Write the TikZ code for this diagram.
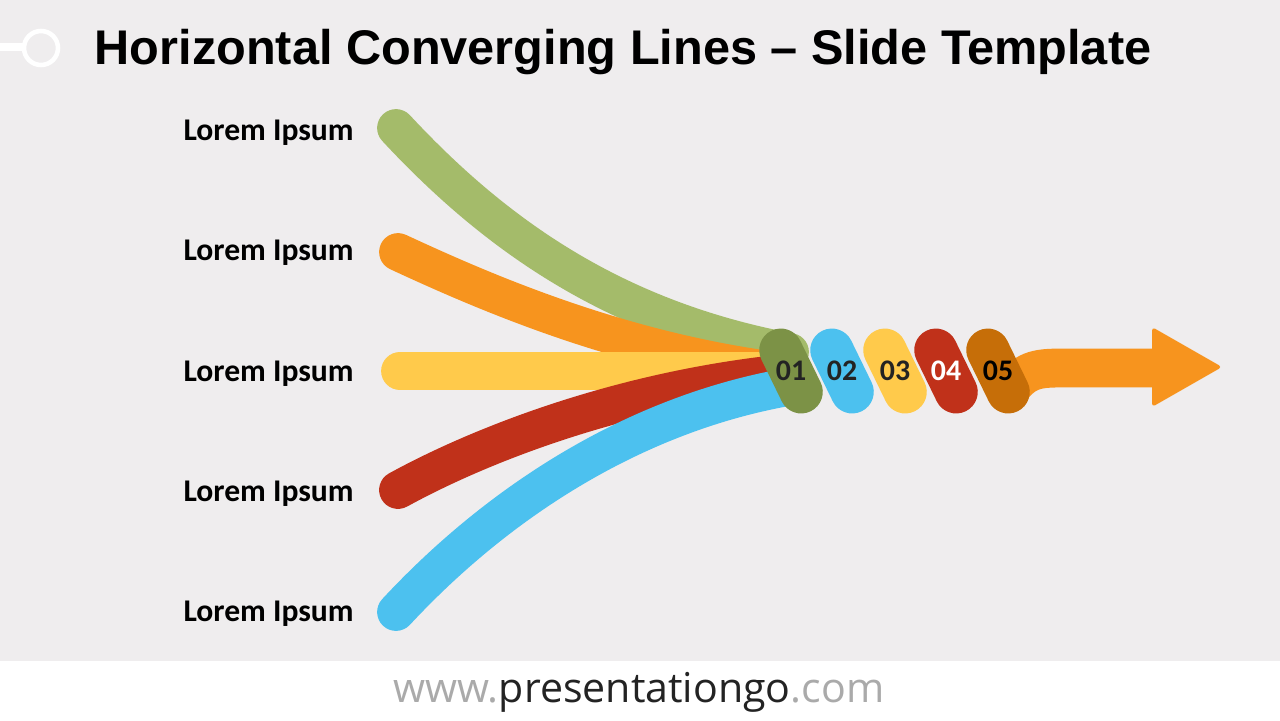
\documentclass[tikz,border=0pt]{standalone}
\usepackage{fontspec}
\setmainfont{Carlito}
\newfontfamily\titlefont{Liberation Sans}
\newfontfamily\footfont{Open Sans}
\usepackage{tikz}
\usetikzlibrary{positioning, calc}
\definecolor{pagegray}{RGB}{239, 237, 238}
\definecolor{lgreen}{RGB}{164, 187, 106}
\definecolor{dgreen}{RGB}{124, 146, 70}
\definecolor{lorange}{RGB}{247, 148, 30}
\definecolor{dorange}{RGB}{198, 110, 8}
\definecolor{lyellow}{RGB}{255, 202, 75}
\definecolor{lred}{RGB}{192, 49, 26}
\definecolor{lblue}{RGB}{76, 193, 239}
\definecolor{inktext}{RGB}{35, 35, 35}

\begin{document}
\begin{tikzpicture}[
    x=0.02cm, y=-0.02cm,
    strand/.style={line width=21.5pt, line cap=round},
    pill/.style={minimum width=24.6pt, minimum height=51pt, inner sep=0pt, rounded corners=12.3pt, rotate=26},
    numlbl/.style={font=\fontsize{17}{17}\selectfont\bfseries, text=inktext, inner sep=0pt},
    lbl/.style={font=\fontsize{18}{18}\selectfont\bfseries, anchor=base east, inner sep=0pt}
]
    \useasboundingbox (0,0) rectangle (1280,720);
    \fill[pagegray] (0,0) rectangle (1280,661);
    \fill[white] (0,661) rectangle (1280,720);

    % corner pin
    \draw[white, line width=4.5pt] (0,47) -- (23,47);
    \draw[white, line width=2.6pt] (41,48) circle (17);

    \node[font=\titlefont\fontsize{27.7}{27.7}\selectfont\bfseries, anchor=base, inner sep=0pt] (title) at (623,64) {Horizontal Converging Lines – Slide Template};

    % labels
    \node[lbl] (l1) at (354,140) {Lorem Ipsum};
    \node[lbl] (l2) at (354,260) {Lorem Ipsum};
    \node[lbl] (l3) at (354,381) {Lorem Ipsum};
    \node[lbl] (l4) at (354,501) {Lorem Ipsum};
    \node[lbl] (l5) at (354,621) {Lorem Ipsum};

    % strand ends
    \coordinate (s1) at (396,128);
    \coordinate (s2) at (398,252);
    \coordinate (s3) at (400,371);
    \coordinate (s4) at (398,490);
    \coordinate (s5) at (396,612);
    \coordinate (e1) at (790,352);
    \coordinate (e2) at (785,372);
    \coordinate (e3) at (780,371);
    \coordinate (e4) at (785,373);
    \coordinate (e5) at (800,385);

    \draw[strand, lgreen] (s1) .. controls (500,240) and (620,320) .. (e1);
    \draw[strand, lorange] (s2) .. controls (480,290) and (620,352) .. (e2);
    \draw[strand, lyellow] (s3) -- (e3);
    \draw[strand, lred] (s4) .. controls (480,445) and (620,390) .. (e4);
    \draw[strand, lblue] (s5) .. controls (500,500) and (640,410) .. (e5);

    % outgoing arrow
    \coordinate (a0) at (1008,392);
    \coordinate (a1) at (1160,368);
    \coordinate (tip) at (1222,367);
    \draw[lorange, line width=22.1pt] (a0) .. controls (1025,370) and (1035,368) .. (1062,368) -- (a1);
    \fill[lorange, rounded corners=2pt] (1152,327) -- (tip) -- (1152,407) -- cycle;

    % pills
    \node[pill, fill=dgreen] (p1) at (791,371) {};
    \node[pill, fill=lblue] (p2) at (842,371) {};
    \node[pill, fill=lyellow] (p3) at (895,371) {};
    \node[pill, fill=lred] (p4) at (946,371) {};
    \node[pill, fill=dorange] (p5) at (998,371) {};
    \node[numlbl] (n1) at (p1) {01};
    \node[numlbl] (n2) at (p2) {02};
    \node[numlbl] (n3) at (p3) {03};
    \node[numlbl, text=white] (n4) at (p4) {04};
    \node[numlbl, text=black] (n5) at (p5) {05};

    \node[font=\footfont\fontsize{23.4}{23.4}\selectfont, anchor=base, inner sep=0pt] (web) at (639,702) {\textcolor[RGB]{170,170,170}{www.}\textcolor[RGB]{35,35,35}{presentationgo}\textcolor[RGB]{170,170,170}{.com}};
\end{tikzpicture}
\end{document}
